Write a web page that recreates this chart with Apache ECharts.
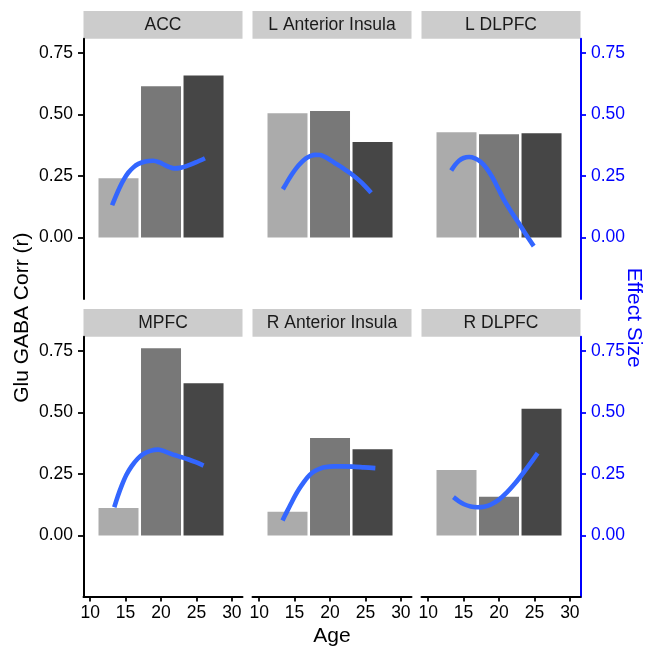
<!DOCTYPE html>
<html>
<head>
<meta charset="utf-8">
<script src="https://cdn.jsdelivr.net/npm/echarts@6/dist/echarts.min.js"></script>
<style>
  html, body { margin: 0; padding: 0; background: #fff; }
  #chart { width: 646px; height: 650px; }
</style>
</head>
<body>
<div id="chart"></div>
<script>
// ---- data ----
const regions = ['ACC', 'L Anterior Insula', 'L DLPFC', 'MPFC', 'R Anterior Insula', 'R DLPFC'];
const ageGroups = [14, 20, 26];           // bar centre ages
const xTicks = [10, 15, 20, 25, 30];
const yTicks = [0, 0.25, 0.5, 0.75];

// Glu-GABA correlation per age group (bars)
const accBars    = [0.241, 0.615, 0.658];
const laiBars    = [0.505, 0.514, 0.388];
const ldlpfcBars = [0.428, 0.420, 0.424];
const mpfcBars   = [0.112, 0.761, 0.619];
const raiBars    = [0.096, 0.396, 0.351];
const rdlpfcBars = [0.266, 0.157, 0.515];

// Effect size smooth curves [age, effect]
const accEffect = [[13.1,0.131],[13.6,0.166],[14.2,0.205],[14.8,0.238],[15.4,0.264],[16.1,0.285],[16.8,0.299],[17.8,0.309],[18.9,0.312],[19.8,0.305],[20.5,0.295],[21.2,0.286],[21.9,0.281],[22.7,0.283],[23.6,0.290],[24.9,0.305],[26.2,0.322]];
const laiEffect = [[13.35,0.196],[14.0,0.228],[14.6,0.256],[15.3,0.284],[16.0,0.306],[16.6,0.322],[17.2,0.331],[17.9,0.336],[18.6,0.335],[19.2,0.329],[19.7,0.321],[20.7,0.302],[21.4,0.290],[22.0,0.278],[23.2,0.254],[24.5,0.222],[25.8,0.182]];
const ldlpfcEffect = [[13.25,0.272],[13.8,0.295],[14.35,0.312],[15.0,0.323],[15.76,0.327],[16.6,0.322],[17.4,0.308],[18.2,0.283],[19.05,0.245],[19.9,0.198],[20.7,0.153],[21.7,0.106],[22.8,0.058],[23.8,0.012],[24.9,-0.035]];
const mpfcEffect = [[13.4,0.115],[13.9,0.160],[14.45,0.203],[15.1,0.246],[15.86,0.282],[16.7,0.312],[17.5,0.331],[18.5,0.344],[19.6,0.349],[20.7,0.340],[21.9,0.327],[22.8,0.319],[23.8,0.310],[24.9,0.298],[26.0,0.284]];
const raiEffect = [[13.3,0.061],[13.9,0.096],[14.5,0.130],[15.1,0.163],[15.7,0.192],[16.3,0.217],[16.8,0.236],[17.4,0.253],[18.0,0.264],[18.6,0.272],[19.2,0.277],[20.5,0.281],[21.8,0.281],[23.2,0.280],[24.8,0.277],[26.4,0.274]];
const rdlpfcEffect = [[13.57,0.156],[14.3,0.140],[15.06,0.127],[16.0,0.118],[16.94,0.115],[17.9,0.117],[18.8,0.125],[20.0,0.146],[21.15,0.176],[22.3,0.213],[23.5,0.257],[24.5,0.296],[25.45,0.335]];

const barSets = [accBars, laiBars, ldlpfcBars, mpfcBars, raiBars, rdlpfcBars];
const effectSets = [accEffect, laiEffect, ldlpfcEffect, mpfcEffect, raiEffect, rdlpfcEffect];

// ---- styles / layout ----
const barColors = ['#ABABAB', '#787878', '#464646'];
const lineColor = '#3366FF';
const font = '"Liberation Sans", Arial, Helvetica, sans-serif';
const panelLeft = [83.5, 252.5, 421.5];
const panelTop = [38.7, 336.7];
const panelW = 159, panelH = 260.3;
const stripH = 27.7;
const tickFont = 17.5;

const grids = [], xAxes = [], yAxes = [], series = [], graphics = [];

regions.forEach((name, i) => {
  const row = Math.floor(i / 3), col = i % 3;
  const left = panelLeft[col], top = panelTop[row];
  grids.push({ left: left, top: top, width: panelW, height: panelH, containLabel: false });

  xAxes.push({
    gridIndex: i, type: 'value', min: 9.06, max: 31.5,
    show: row === 1,
    axisLine: { show: true, onZero: false, lineStyle: { color: '#000', width: 2 } },
    axisTick: { show: true, length: 4.5, customValues: xTicks, lineStyle: { color: '#000', width: 1.8 } },
    axisLabel: { customValues: xTicks, fontSize: tickFont, color: '#000', fontFamily: font, margin: 7 },
    splitLine: { show: false }
  });

  yAxes.push({
    gridIndex: i, type: 'value', position: 'left', min: -0.25, max: 0.808,
    show: col === 0,
    axisLine: { show: true, onZero: false, lineStyle: { color: '#000', width: 2 } },
    axisTick: { show: true, length: 5.5, customValues: yTicks, lineStyle: { color: '#000', width: 1.8 } },
    axisLabel: { customValues: yTicks, fontSize: tickFont, color: '#000', fontFamily: font, margin: 10.5,
                 formatter: v => v.toFixed(2) },
    splitLine: { show: false }
  });
  yAxes.push({
    gridIndex: i, type: 'value', position: 'right', min: -0.25, max: 0.808,
    show: col === 2,
    axisLine: { show: true, onZero: false, lineStyle: { color: '#0000FF', width: 2 } },
    axisTick: { show: true, length: 5.5, customValues: yTicks, lineStyle: { color: '#0000FF', width: 1.8 } },
    axisLabel: { customValues: yTicks, fontSize: tickFont, color: '#0000FF', fontFamily: font, margin: 10.5,
                 formatter: v => v.toFixed(2) },
    splitLine: { show: false }
  });

  series.push({
    type: 'bar', xAxisIndex: i, yAxisIndex: 2 * i,
    barWidth: 40,
    silent: true,
    data: ageGroups.map((a, k) => ({ value: [a, barSets[i][k]], itemStyle: { color: barColors[k] } }))
  });
  series.push({
    type: 'line', xAxisIndex: i, yAxisIndex: 2 * i + 1,
    smooth: 0.3, showSymbol: false, silent: true,
    lineStyle: { color: lineColor, width: 4.6, cap: 'butt', join: 'round' },
    data: effectSets[i],
    z: 5
  });

  graphics.push({
    type: 'rect',
    shape: { x: left, y: top - stripH, width: panelW, height: stripH },
    style: { fill: '#CCCCCC' }, silent: true
  });
  graphics.push({
    type: 'text',
    x: left + panelW / 2, y: top - stripH / 2,
    style: { text: name, fill: '#1A1A1A', font: tickFont + 'px ' + font, align: 'center', verticalAlign: 'middle' },
    silent: true
  });
});

// axis titles
graphics.push({
  type: 'text', x: 332, y: 636,
  style: { text: 'Age', fill: '#000', font: '21px ' + font, align: 'center', verticalAlign: 'middle' }
});
graphics.push({
  type: 'text', x: 22, y: 317.7, rotation: Math.PI / 2,
  style: { text: 'Glu GABA Corr (r)', fill: '#000', font: '21px ' + font, align: 'center', verticalAlign: 'middle' }
});
graphics.push({
  type: 'text', x: 634, y: 317.7, rotation: -Math.PI / 2,
  style: { text: 'Effect Size', fill: '#0000FF', font: '21px ' + font, align: 'center', verticalAlign: 'middle' }
});

const chart = echarts.init(document.getElementById('chart'), null, { renderer: 'canvas' });
chart.setOption({
  animation: false,
  backgroundColor: '#fff',
  grid: grids,
  xAxis: xAxes,
  yAxis: yAxes,
  series: series,
  graphic: graphics
});
</script>
</body>
</html>
